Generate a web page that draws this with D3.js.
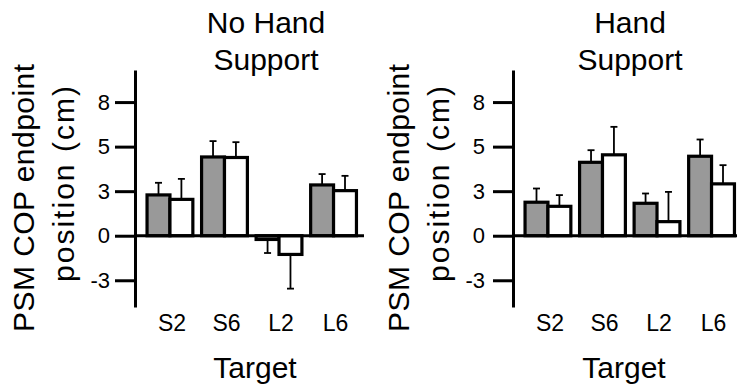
<!DOCTYPE html>
<html>
<head>
<meta charset="utf-8">
<script src="https://cdn.jsdelivr.net/npm/d3@7"></script>
<style>
  html, body { margin: 0; padding: 0; background: #fff; }
  svg { display: block; }
  text { font-family: "Liberation Sans", Arial, sans-serif; fill: #000; }
</style>
</head>
<body>
<svg id="chart" width="737" height="389"></svg>
<script>
// ---- data ----
const categories = ["S2", "S6", "L2", "L6"];
const seriesNames = ["grey", "white"];
const tickValues = [-2.5, 0, 2.5, 5, 7.5];
const tickLabels = ["-3", "0", "3", "5", "8"];

const noHandGrey = [2.29, 4.42, -0.21, 2.85];
const noHandGreyErr = [0.68, 0.89, 0.76, 0.61];
const noHandWhite = [2.04, 4.39, -1.05, 2.53];
const noHandWhiteErr = [1.15, 0.86, 1.92, 0.83];

const handGrey = [1.88, 4.12, 1.82, 4.46];
const handGreyErr = [0.77, 0.68, 0.55, 0.94];
const handWhite = [1.65, 4.54, 0.79, 2.91];
const handWhiteErr = [0.63, 1.57, 1.67, 1.05];

const panelTitles = [["No Hand", "Support"], ["Hand", "Support"]];
const yLabelLines = ["PSM COP endpoint", "position (cm)"];
const xLabel = "Target";
const seriesColors = ["#999999", "#ffffff"];

// ---- drawing ----
const svg = d3.select("#chart");
const y = d3.scaleLinear().domain([-4.0, 9.3]).range([307, 70]);

const panels = [
  { ox: 0, axisX: 135, labelPad: 5, grey: noHandGrey, greyErr: noHandGreyErr, white: noHandWhite, whiteErr: noHandWhiteErr, title: panelTitles[0], titleX: 266, xLabelX: 255 },
  { ox: 375, axisX: 513, labelPad: 8, grey: handGrey, greyErr: handGreyErr, white: handWhite, whiteErr: handWhiteErr, title: panelTitles[1], titleX: 630, xLabelX: 624 }
];

panels.forEach(p => {
  const g = svg.append("g");
  const x = d3.scaleBand().domain(categories)
    .range([p.axisX + 5.5, p.axisX + 228]).paddingInner(0.16).paddingOuter(0.12);
  const xs = d3.scaleBand().domain(seriesNames).range([0, x.bandwidth()]);

  // title
  p.title.forEach((t, i) => {
    g.append("text").attr("x", p.titleX).attr("y", 33 + i * 37)
      .attr("text-anchor", "middle").style("font-size", "30px").text(t);
  });

  // y label (two rotated lines)
  const lx = p.ox;
  g.append("text").attr("transform", `translate(${lx + 34},198) rotate(-90)`)
    .attr("text-anchor", "middle").style("font-size", "30px")
    .attr("textLength", 268).attr("lengthAdjust", "spacing").text(yLabelLines[0]);
  g.append("text").attr("transform", `translate(${lx + 74},184) rotate(-90)`)
    .attr("text-anchor", "middle").style("font-size", "30px")
    .attr("textLength", 196).attr("lengthAdjust", "spacing").text(yLabelLines[1]);

  // bars
  const rows = [];
  categories.forEach((c, i) => {
    rows.push({ c, s: seriesNames[0], v: p.grey[i], e: p.greyErr[i], fill: seriesColors[0] });
    rows.push({ c, s: seriesNames[1], v: p.white[i], e: p.whiteErr[i], fill: seriesColors[1] });
  });

  // error bars (drawn first; one-sided away from zero)
  const eb = g.append("g").attr("stroke", "#000").attr("stroke-width", 1.8);
  rows.forEach(d => {
    const cx = x(d.c) + xs(d.s) + xs.bandwidth() / 2;
    const end = d.v >= 0 ? d.v + d.e : d.v - d.e;
    eb.append("line").attr("x1", cx).attr("x2", cx).attr("y1", y(d.v)).attr("y2", y(end));
    eb.append("line").attr("x1", cx - 3.5).attr("x2", cx + 3.5).attr("y1", y(end)).attr("y2", y(end));
  });

  g.append("g").selectAll("rect").data(rows).join("rect")
    .attr("x", d => x(d.c) + xs(d.s))
    .attr("width", xs.bandwidth())
    .attr("y", d => Math.min(y(d.v), y(0)))
    .attr("height", d => Math.abs(y(d.v) - y(0)))
    .attr("fill", d => d.fill)
    .attr("stroke", "#000").attr("stroke-width", 3.2);

  // zero line
  g.append("line").attr("x1", p.axisX).attr("x2", p.axisX + 229)
    .attr("y1", y(0)).attr("y2", y(0)).attr("stroke", "#000").attr("stroke-width", 3);

  // y axis
  const ax = g.append("g").attr("transform", `translate(${p.axisX},0)`)
    .call(d3.axisLeft(y).tickValues(tickValues).tickFormat((d, i) => tickLabels[i])
      .tickSize(20).tickSizeOuter(0).tickPadding(p.labelPad));
  ax.select(".domain").attr("stroke", "#000").attr("stroke-width", 3);
  ax.selectAll(".tick line").attr("stroke", "#000").attr("stroke-width", 3);
  ax.selectAll(".tick text").style("font-size", "22px").style("font-family", "'Liberation Sans', Arial, sans-serif");

  // category labels
  g.append("g").selectAll("text").data(categories).join("text")
    .attr("x", d => x(d) + x.bandwidth() / 2 + 2)
    .attr("y", 331)
    .attr("text-anchor", "middle").style("font-size", "23px").text(d => d);

  // x label
  g.append("text").attr("x", p.xLabelX).attr("y", 378)
    .attr("text-anchor", "middle").style("font-size", "30px").text(xLabel);
});
</script>
</body>
</html>
